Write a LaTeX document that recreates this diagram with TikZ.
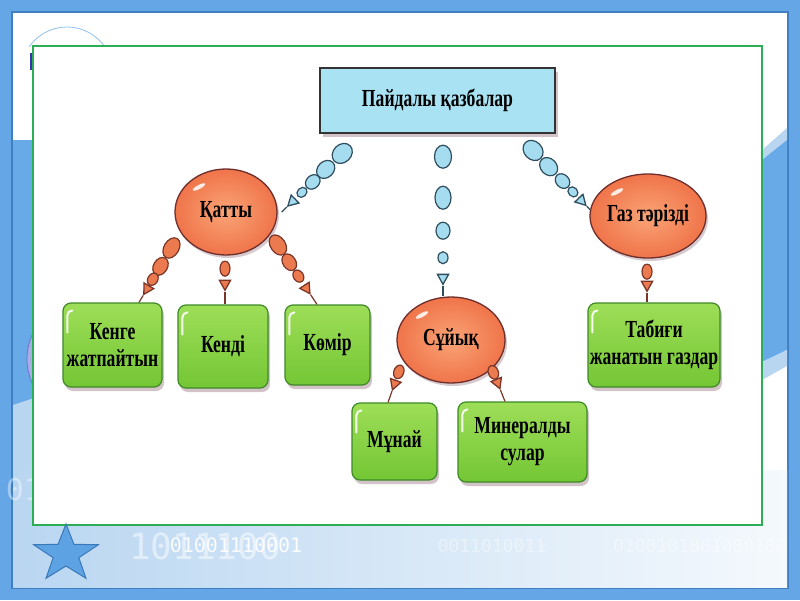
\documentclass[tikz,border=0pt]{standalone}
\usepackage{fontspec}
\setmainfont{Liberation Serif}[FakeStretch=0.72]
\newfontfamily\digitfont{DejaVu Sans Mono}
\usetikzlibrary{shapes.geometric,arrows.meta,calc,decorations.markings,shadows}
\definecolor{frameB}{HTML}{64A6E6}
\definecolor{frameD}{HTML}{3F7FC2}
\definecolor{stripB}{HTML}{68A9E7}
\definecolor{stripL}{HTML}{B9D6F1}
\definecolor{panelG}{HTML}{2BAE55}
\definecolor{boxC}{HTML}{A9E2F3}
\definecolor{ovalO}{HTML}{F0744A}
\definecolor{ovalL}{HTML}{F9A476}
\definecolor{ovalD}{HTML}{6E2E2C}
\definecolor{grnL}{HTML}{9EDE58}
\definecolor{grnM}{HTML}{74C635}
\definecolor{grnD}{HTML}{3D8A26}
\definecolor{bubB}{HTML}{A6DCEF}
\definecolor{bubBD}{HTML}{2E4D5E}
\definecolor{bubO}{HTML}{EC7A4F}
\definecolor{bubOD}{HTML}{7A3528}
\definecolor{shadowC}{HTML}{9A7C86}
\definecolor{starF}{HTML}{5DA2E3}
\definecolor{starD}{HTML}{3A78B8}
\definecolor{lensF}{HTML}{A9ACE6}
\definecolor{lensD}{HTML}{6E73CC}
\newcommand\lbl{\fontsize{24.5}{27}\selectfont\bfseries}
% #1 start, #2 end, #3 fill, #4 edge, #5 bubbles d/rx/ry, #6 arrow base, #7 arrow tip
\newcommand\bubchain[7]{%
  \foreach \dd/\ra/\rb in {#5}{%
    \path[decorate,decoration={markings,mark=at position \dd with {\draw[fill=#3,draw=#4,line width=1.2pt] (0pt,0pt) ellipse[x radius=\ra,y radius=\rb];}}] (#1) -- (#2);}
  \draw[draw=#4,line width=1.3pt,-{Triangle[length=12pt,width=13pt,fill=#3]}] ($(#1)!#6!(#2)$) -- ($(#1)!#7!(#2)$);
  \draw[draw=#4,line width=1.2pt] ($(#1)!#7!(#2)$) -- (#2);
}
\begin{document}
\begin{tikzpicture}[x=1pt,y=-1pt,
  topbox/.style={draw=black!80,line width=1.4pt,fill=boxC,minimum width=235pt,minimum height=65pt,inner sep=0pt,
    drop shadow={shadow xshift=3pt,shadow yshift=-4pt,opacity=0.45,fill=shadowC},font=\lbl},
  oval/.style={ellipse,draw=ovalD,line width=1.3pt,inner color=ovalL,outer color=ovalO,inner sep=0pt,
    drop shadow={shadow xshift=2pt,shadow yshift=-3pt,opacity=0.4,fill=shadowC},font=\lbl},
  greenbox/.style={rounded corners=8pt,draw=grnD,line width=1.2pt,top color=grnL,bottom color=grnM,inner sep=0pt,
    drop shadow={shadow xshift=2pt,shadow yshift=-4pt,opacity=0.45,fill=shadowC},font=\lbl,align=center},
  hlnode/.style={ellipse,fill=white,opacity=0.85,inner sep=0pt,minimum width=14pt,minimum height=4pt},
  hlstroke/.style={draw=white,line width=2pt,line cap=round,opacity=0.9},
  digitbig/.style={font=\digitfont\fontsize{36}{36}\selectfont,text=white,opacity=0.5,inner sep=0pt},
  digitsmall/.style={font=\digitfont\fontsize{20}{20}\selectfont,text=white,opacity=0.9,inner sep=0pt},
  digitfaint/.style={font=\digitfont\fontsize{18}{18}\selectfont,text=white,opacity=0.4,inner sep=0pt},
  starsty/.style={fill=starF,draw=starD,line width=1pt,line join=miter}]
\useasboundingbox (0,0) rectangle (800,600);
% frame and background
\fill[frameB] (0,0) rectangle (800,600);
\fill[frameD] (11,11) rectangle (789,589);
\fill[white] (13,13) rectangle (787,587);
\shade[left color=stripL,middle color=white!92!stripL,right color=white!85!stripL] (13,470) rectangle (787,587);
% right strip
\fill[stripL] (762,150) -- (787,128) -- (787,140) -- (762,160) -- cycle;
\fill[stripB] (762,160) -- (787,140) -- (787,350) -- (762,362) -- cycle;
\fill[stripL] (762,362) -- (787,350) -- (787,366) -- (762,380) -- cycle;
% left strip
\fill[stripB] (13,140) rectangle (34,405);
\fill[stripL] (13,405) -- (34,398) -- (34,470) -- (13,470) -- cycle;
\fill[lensF,draw=lensD,line width=0.8pt] (86,359) circle[radius=59pt];
% top-left arc
\begin{scope}
  \clip (13,13) rectangle (787,46);
  \draw[draw=frameB!70,line width=0.8pt] (67,73) circle[radius=46pt];
\end{scope}
\fill[blue!60!black!80] (29.5,53) rectangle (33,70);
% digits
\node[digitfaint,font=\digitfont\fontsize{30}{30}\selectfont] at (24,490) {01};
\node[digitbig] at (205,546) {1011100};
\node[digitsmall] at (236,545) {01001110001};
\node[digitfaint] at (492,546) {0011010011};
\node[digitfaint] at (700,546) {0100101001000100};
% panel
\draw[fill=white,draw=panelG,line width=2pt] (33,46) rectangle (762,525);
% star
\draw[starsty] plot[samples at={0,...,9}] ({66+ifthenelse(mod(\x,2)==0,34,13.5)*cos(90+36*\x)},{554-ifthenelse(mod(\x,2)==0,30,12)*sin(90+36*\x)}) -- cycle;
% nodes
\node[topbox] (top) at (437.5,100.5) {Пайдалы қазбалар};
\node[oval,minimum width=102pt,minimum height=86pt] (katty) at (226,212) {Қатты};
\node[oval,minimum width=108pt,minimum height=86pt] (suyk) at (451,340) {Сұйық};
\node[oval,minimum width=116pt,minimum height=84pt] (gaz) at (648,216) {Газ тәрізді};
\node[greenbox,minimum width=99pt,minimum height=84pt] (kenge) at (112.5,345) {Кенге\\жатпайтын};
\node[greenbox,minimum width=90pt,minimum height=83pt] (kendi) at (223,346.5) {Кенді};
\node[greenbox,minimum width=85pt,minimum height=80pt] (komir) at (327.5,345) {Көмір};
\node[greenbox,minimum width=85pt,minimum height=77pt] (munai) at (394.5,441.5) {Мұнай};
\node[greenbox,minimum width=129pt,minimum height=80pt] (mineral) at (522.5,442) {Минералды\\сулар};
\node[greenbox,minimum width=132pt,minimum height=84pt] (tabigi) at (654,345) {Табиғи\\жанатын газдар};
% highlights
\foreach \n/\dx/\dy in {katty/-27/-25, suyk/-29/-25, gaz/-31/-24}{
  \node[hlnode,rotate=28] at ($(\n.center)+(\dx,\dy)$) {};}
\foreach \n in {kenge,kendi,komir,munai,mineral,tabigi}{
  \draw[hlstroke] ([xshift=5pt,yshift=-30pt]\n.north west) -- ([xshift=5pt,yshift=-13pt]\n.north west) to[out=90,in=180] ([xshift=10pt,yshift=-8pt]\n.north west);}
% connector end points
\coordinate (s1) at ($(top.south west)+(33,10)$);
\coordinate (e1) at ($(katty.east)+(4,0)$);
\coordinate (s2) at ($(top.south)+(5.5,0)$);
\coordinate (e2) at ($(suyk.north)+(-8,0)$);
\coordinate (s9) at ($(top.south east)+(-32,7)$);
\coordinate (e9) at ($(gaz.west)+(1,-6)$);
\coordinate (s3) at ($(katty.center)+(-45,20)$);
\coordinate (e3) at ($(kenge.north)+(26.5,0)$);
\coordinate (s4) at ($(katty.south)+(-1,0)$);
\coordinate (e4) at ($(kendi.north)+(2,0)$);
\coordinate (s5) at ($(katty.center)+(44,21)$);
\coordinate (e5) at ($(komir.north)+(-10.5,0)$);
\coordinate (s6) at ($(suyk.center)+(-48,20)$);
\coordinate (e6) at ($(munai.north)+(-6.5,0)$);
\coordinate (s7) at ($(suyk.center)+(39,24)$);
\coordinate (e7) at ($(mineral.north)+(-17.5,0)$);
\coordinate (s8) at ($(gaz.south)+(-1,0)$);
\coordinate (e8) at ($(tabigi.north)+(-7,0)$);
% chains
\bubchain{s1}{e1}{bubB}{bubBD}{14pt/11pt/9pt,37pt/10pt/8pt,55pt/8pt/6.5pt,70pt/5.5pt/4.5pt}{79pt}{91pt}
\bubchain{s2}{e2}{bubB}{bubBD}{23pt/11.5pt/8.5pt,64pt/11.5pt/8pt,97pt/8.5pt/7pt,124pt/6pt/5pt}{140pt}{152pt}
\bubchain{s9}{e9}{bubB}{bubBD}{13.5pt/11pt/9pt,36pt/10pt/8pt,56pt/8pt/6.5pt,71pt/5.5pt/4.5pt}{79pt}{91pt}
\bubchain{s3}{e3}{bubO}{bubOD}{18.6pt/11pt/7.5pt,40pt/9.5pt/7pt,55pt/6.5pt/5pt}{62pt}{74pt}
\bubchain{s4}{e4}{bubO}{bubOD}{13pt/7.5pt/5pt}{24pt}{36pt}
\bubchain{s5}{e5}{bubO}{bubOD}{14.4pt/11pt/7.5pt,35pt/9pt/6.5pt,51.6pt/6.5pt/5pt}{62pt}{74pt}
\bubchain{s6}{e6}{bubO}{bubOD}{12.6pt/7pt/5pt}{21pt}{33pt}
\bubchain{s7}{e7}{bubO}{bubOD}{9pt/7pt/5pt}{16pt}{28pt}
\bubchain{s8}{e8}{bubO}{bubOD}{13pt/7.5pt/5pt}{22pt}{34pt}
\end{tikzpicture}
\end{document}
